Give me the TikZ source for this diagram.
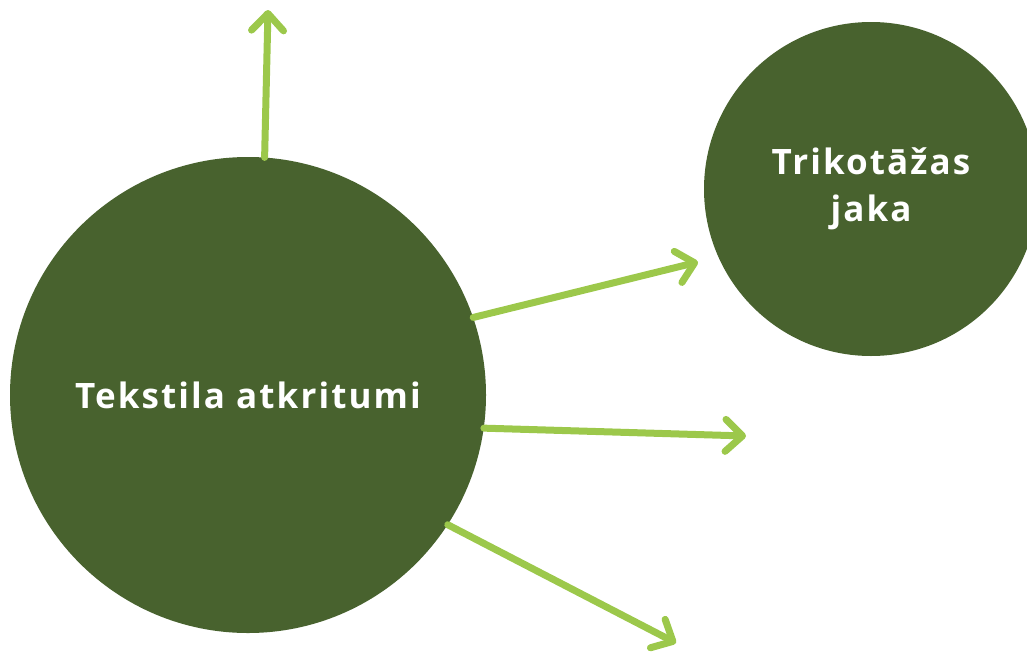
\documentclass[tikz,border=0pt]{standalone}
\usepackage{fontspec}
\setmainfont{Open Sans}
\newfontfamily\labelfont[LetterSpace=6]{Open Sans Bold}
\usetikzlibrary{arrows.meta}
\definecolor{darkgreen}{HTML}{48622E}
\definecolor{lightgreen}{HTML}{9CC84B}
\tikzset{
  bubble/.style={circle, fill=darkgreen, draw=none, text=white, align=center, inner sep=0pt,
    font=\labelfont\fontsize{35}{47}\selectfont},
  arrowline/.style={draw=lightgreen, line width=7pt, line cap=round,
    -{Straight Barb[length=17pt, width=32pt, round]}}
}
\begin{document}
\begin{tikzpicture}[x=1pt,y=-1pt]
\useasboundingbox (0,0) rectangle (1027,653);
\node[bubble, minimum size=476pt] (big) at (248,395) {Tekstila atkritumi};
\node[bubble, minimum size=334pt] (small) at (871,189) {Trikotāžas\\jaka};
\coordinate (e1) at (268,10);
\coordinate (e2) at (698,262);
\coordinate (e3) at (746,436);
\coordinate (e4) at (676,643);
\draw[arrowline] (big.86.4) -- (e1);
\draw[arrowline] (big.19.3) -- (e2);
\draw[arrowline] (big.-8.1) -- (e3);
\draw[arrowline] (big.-33.8) -- (e4);
\end{tikzpicture}
\end{document}
